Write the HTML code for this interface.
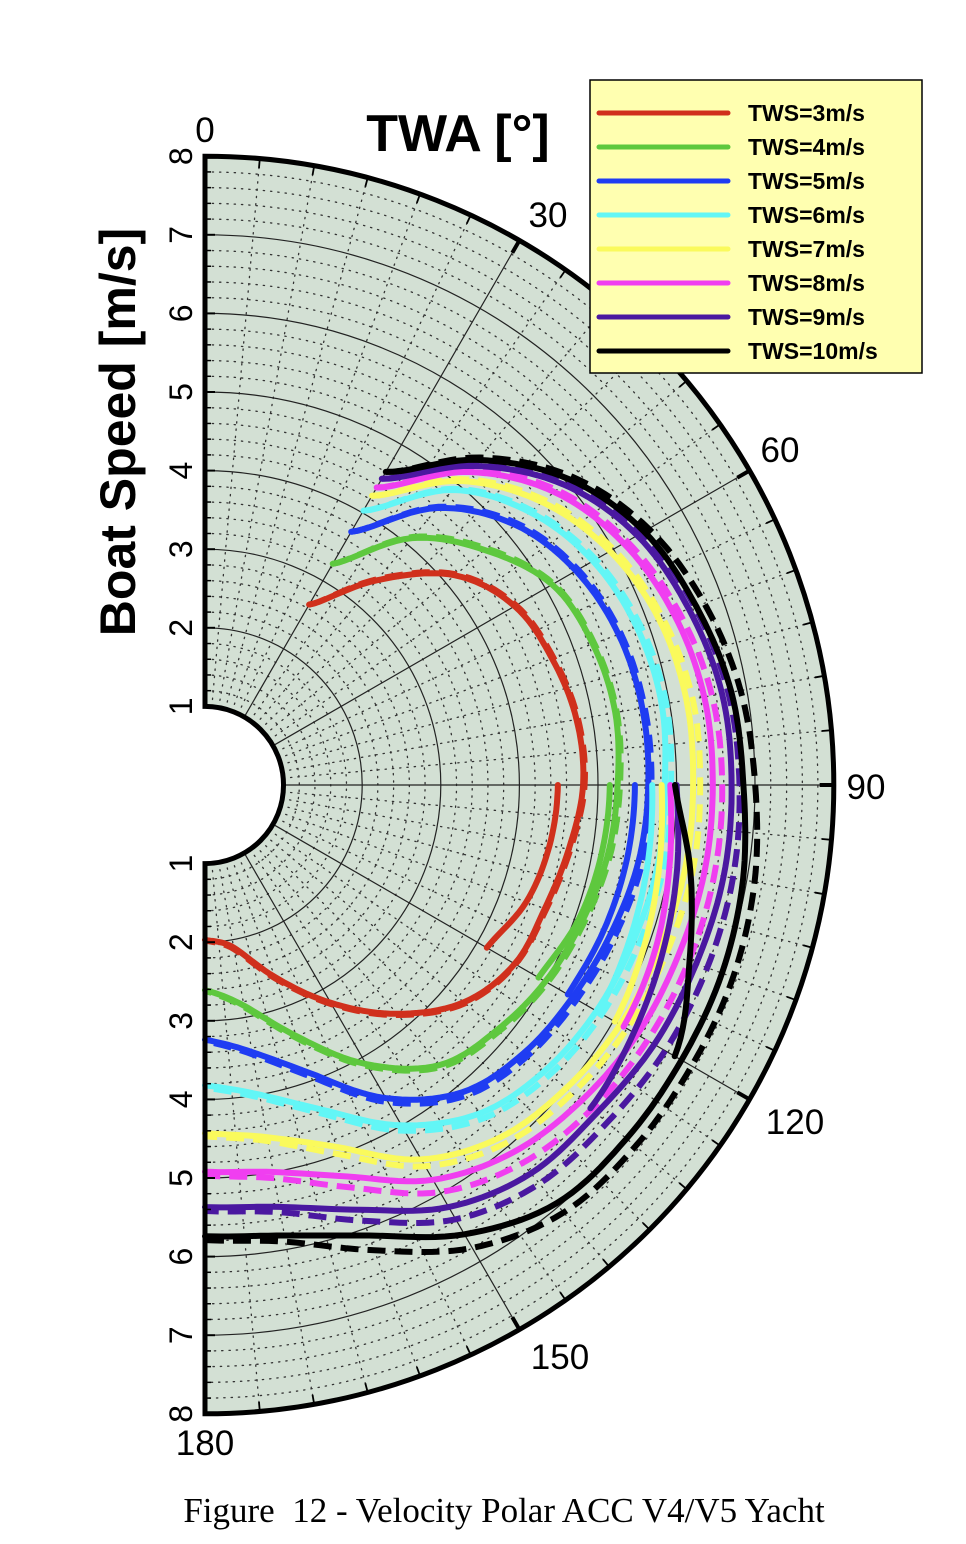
<!DOCTYPE html>
<html><head><meta charset="utf-8"><style>
html,body{margin:0;padding:0;background:#fff;}
svg{display:block;}
</style></head><body>
<svg id="chart" width="966" height="1544" viewBox="0 0 966 1544" xmlns="http://www.w3.org/2000/svg">
<g id="grid"></g>
<g id="series"></g>
<g id="frame"></g>
<g id="labels"></g>
<text x="458" y="151" text-anchor="middle" font-family="Liberation Sans, sans-serif" font-weight="bold" font-size="52">TWA [°]</text>
<text transform="translate(135,432) rotate(-90)" text-anchor="middle" font-family="Liberation Sans, sans-serif" font-weight="bold" font-size="50">Boat Speed [m/s]</text>
<g id="legend">
<rect x="590" y="80" width="332" height="293" fill="#ffffb0" stroke="#000" stroke-width="1.5"/>
</g>
<text x="504" y="1522" text-anchor="middle" font-family="Liberation Serif, serif" font-size="35">Figure&#160; 12 - Velocity Polar ACC V4/V5 Yacht</text>
</svg>
<script>
const ANGLES = [30,40,50,60,70,80,90,100,110,120,130,140,150,160,170,180];
const TWS = ["3","4","5","6","7","8","9","10"];
const COLORS = ["#d0301c","#5ec83e","#1f3cf2","#62f6f6","#fafa5c","#f03ef0","#4a18a0","#000000"];
const SPEED_3  = [2.65,3.4,4.15,4.55,4.7,4.8,4.81,4.7,4.6,4.55,4.3,3.8,3.2,2.6,2.1,1.97];
const SPEED_4  = [3.25,4.1,4.65,5.1,5.25,5.3,5.25,5.2,5.1,5.0,4.85,4.65,4.1,3.4,2.85,2.61];
const SPEED_5  = [3.72,4.6,5.15,5.45,5.6,5.65,5.64,5.6,5.5,5.4,5.3,5.1,4.6,3.9,3.45,3.24];
const SPEED_6  = [4.03,4.9,5.4,5.7,5.85,5.9,5.85,5.85,5.8,5.75,5.65,5.45,5.0,4.4,4.0,3.82];
const SPEED_7  = [4.25,5.05,5.6,5.95,6.15,6.22,6.21,6.2,6.15,6.1,6.0,5.85,5.5,4.9,4.55,4.43];
const SPEED_8  = [4.37,5.2,5.8,6.15,6.35,6.45,6.46,6.45,6.4,6.35,6.25,6.1,5.8,5.3,5.0,4.92];
const SPEED_9  = [4.5,5.3,5.95,6.35,6.55,6.68,6.7,6.7,6.65,6.6,6.5,6.45,6.2,5.75,5.45,5.37];
const SPEED_10 = [4.6,5.4,6.05,6.45,6.65,6.8,6.85,6.95,7.0,7.0,7.0,6.95,6.6,6.1,5.82,5.74];
const DASH_3  = [2.65,3.42,4.17,4.57,4.72,4.82,4.83,4.72,4.62,4.56,4.32,3.82,3.22,2.62,2.12,1.98];
const DASH_4  = [3.25,4.12,4.68,5.12,5.27,5.32,5.28,5.23,5.13,5.03,4.88,4.68,4.13,3.43,2.87,2.62];
const DASH_5  = [3.72,4.62,5.18,5.48,5.63,5.68,5.68,5.65,5.56,5.46,5.36,5.16,4.66,3.95,3.48,3.26];
const DASH_6  = [4.03,4.92,5.43,5.74,5.9,5.96,5.93,5.93,5.88,5.83,5.73,5.53,5.08,4.46,4.04,3.85];
const DASH_7  = [4.25,5.08,5.64,6.0,6.2,6.3,6.3,6.3,6.25,6.2,6.1,5.95,5.6,5.0,4.6,4.47];
const DASH_8  = [4.37,5.23,5.84,6.2,6.42,6.55,6.58,6.58,6.55,6.5,6.42,6.28,5.98,5.45,5.08,4.97];
const DASH_9  = [4.5,5.33,6.0,6.42,6.63,6.76,6.8,6.82,6.8,6.76,6.68,6.62,6.38,5.9,5.52,5.42];
const DASH_10 = [4.6,5.44,6.1,6.52,6.76,6.92,7.0,7.1,7.15,7.15,7.15,7.1,6.8,6.3,5.9,5.79];
const INNER_ANGLES = [90,100,110,120,130];
const INNER_3  = [4.49,4.45,4.35,4.14,null];
const INNER_4  = [5.15,5.12,5.05,4.9,null];
const INNER_5  = [5.47,5.45,5.4,5.33,null];
const INNER_6  = [5.69,5.72,5.75,5.78,null];
const INNER_7  = [5.81,5.87,5.95,6.02,null];
const INNER_8  = [5.92,6.0,6.1,6.15,null];
const INNER_9  = [6.0,6.1,6.2,6.3,6.4];
const INNER_10 = [5.98,6.27,6.56,6.9,null];
const SPEED_TICKS = ["1","2","3","4","5","6","7","8"];
const ANGLE_TICKS = ["0","30","60","90","120","150","180"];

const CX=205, CY=785, K=78.6;
const NS="http://www.w3.org/2000/svg";
function px(th,v){const a=th*Math.PI/180;return [CX+v*K*Math.sin(a), CY-v*K*Math.cos(a)];}
function mk(tag,attrs,parent){const e=document.createElementNS(NS,tag);for(const k in attrs)e.setAttribute(k,attrs[k]);parent.appendChild(e);return e;}
function arcPath(r,a0,a1){const p0=px(a0,r),p1=px(a1,r);return `M${p0[0]},${p0[1]} A${r*K},${r*K} 0 0 1 ${p1[0]},${p1[1]}`;}

const grid=document.getElementById('grid');
const bg=mk('path',{d:`M${CX},${CY-8*K} A${8*K},${8*K} 0 0 1 ${CX},${CY+8*K} L${CX},${CY+K} A${K},${K} 0 0 0 ${CX},${CY-K} Z`,fill:'#d3e0d4'},grid);


for(let i=6;i<40;i++){const r=i/5; if(i%5===0) continue;
  const c=mk('path',{d:arcPath(r,0,180),fill:'none',stroke:'#333','stroke-width':1.3,'stroke-dasharray':'1.3 6','stroke-linecap':'round'},grid);
  
  
}
for(let a=5;a<180;a+=5){ if(a%30===0) continue;
  const p0=px(a,1),p1=px(a,8);
  const l=mk('line',{x1:p0[0],y1:p0[1],x2:p1[0],y2:p1[1],stroke:'#333','stroke-width':1.3,'stroke-dasharray':'1.3 6','stroke-linecap':'round'},grid);
  
  
}
for(let r=2;r<8;r++){
  const c=mk('path',{d:arcPath(r,0,180),fill:'none',stroke:'#222','stroke-width':1.2},grid);
  
  
}
for(let a=30;a<180;a+=30){
  const p0=px(a,1),p1=px(a,8);
  const l=mk('line',{x1:p0[0],y1:p0[1],x2:p1[0],y2:p1[1],stroke:'#222','stroke-width':1.2},grid);
  
  
}

const series=document.getElementById('series');
function crInterp(angs,vals,step){
  const pts=[];
  for(let i=0;i<angs.length-1;i++){
    const p0=vals[Math.max(i-1,0)],p1=vals[i],p2=vals[i+1],p3=vals[Math.min(i+2,vals.length-1)];
    const a1=angs[i],a2=angs[i+1];
    const n=Math.max(2,Math.round((a2-a1)/step));
    for(let j=0;j<n;j++){const t=j/n;
      const v=0.5*((2*p1)+(-p0+p2)*t+(2*p0-5*p1+4*p2-p3)*t*t+(-p0+3*p1-3*p2+p3)*t*t*t);
      pts.push(px(a1+(a2-a1)*t,v));}
  }
  pts.push(px(angs[angs.length-1],vals[vals.length-1]));
  return pts.map((p,i)=>(i?'L':'M')+p[0].toFixed(1)+','+p[1].toFixed(1)).join(' ');
}
const MAIN=[SPEED_3,SPEED_4,SPEED_5,SPEED_6,SPEED_7,SPEED_8,SPEED_9,SPEED_10];
const DASH=[DASH_3,DASH_4,DASH_5,DASH_6,DASH_7,DASH_8,DASH_9,DASH_10];
const INNER=[INNER_3,INNER_4,INNER_5,INNER_6,INNER_7,INNER_8,INNER_9,INNER_10];
for(let s=0;s<TWS.length;s++){
  const d=mk('path',{d:crInterp(ANGLES,DASH[s],1),fill:'none',stroke:COLORS[s],'stroke-width':6,'stroke-dasharray':'18 9'},series);
  
  
  const m=mk('path',{d:crInterp(ANGLES,MAIN[s],1),fill:'none',stroke:COLORS[s],'stroke-width':6,'stroke-linecap':'round'},series);
  
  
  const ia=[],iv=[];
  INNER[s].forEach((v,i)=>{if(v!==null){ia.push(INNER_ANGLES[i]);iv.push(v);}});
  const n=mk('path',{d:crInterp(ia,iv,1),fill:'none',stroke:COLORS[s],'stroke-width':6,'stroke-linecap':'round'},series);
  
  
}

const frame=document.getElementById('frame');
const f=mk('path',{d:`M${CX},${CY-8*K} A${8*K},${8*K} 0 0 1 ${CX},${CY+8*K} L${CX},${CY+K} A${K},${K} 0 0 0 ${CX},${CY-K} Z`,fill:'none',stroke:'#000','stroke-width':5,'stroke-linejoin':'miter'},frame);


for(let a=5;a<180;a+=5){
  const big=a%30===0;const p0=px(a,8),p1=px(a,big?7.82:7.88);
  const t=mk('line',{x1:p0[0],y1:p0[1],x2:p1[0],y2:p1[1],stroke:'#000','stroke-width':big?4:1.8},frame);
  
  
}
for(let i=5;i<40;i++){const r=i/5;const big=i%5===0;
  [-1,1].forEach(sg=>{const y=CY+sg*r*K;
    const t=mk('line',{x1:CX,y1:y,x2:CX+(big?10:6),y2:y,stroke:'#000','stroke-width':big?2:1.5},frame);
    
    });
}

const labels=document.getElementById('labels');
SPEED_TICKS.forEach((lab,i)=>{const r=+lab;
  [-1,1].forEach(sg=>{const y=CY+sg*r*K;
    const t=mk('text',{transform:`translate(192,${y}) rotate(-90)`,'text-anchor':'middle','font-family':'Liberation Sans, sans-serif','font-size':32},labels);
    t.textContent=lab;
    
    });
});
const ANGLE_LABEL_POS={"0":[205,142],"30":[548,227],"60":[780,462],"90":[866,799],"120":[795,1134],"150":[560,1369],"180":[205,1455]};
ANGLE_TICKS.forEach(lab=>{const p=ANGLE_LABEL_POS[lab];
  const t=mk('text',{x:p[0],y:p[1],'text-anchor':'middle','font-family':'Liberation Sans, sans-serif','font-size':35},labels);
  t.textContent=lab;
  
  
});

const legend=document.getElementById('legend');
TWS.forEach((w,i)=>{const y=113+34*i;
  const l=mk('line',{x1:599,y1:y,x2:728,y2:y,stroke:COLORS[i],'stroke-width':5,'stroke-linecap':'round'},legend);
  
  
  const t=mk('text',{x:748,y:y+8,'font-family':'Liberation Sans, sans-serif','font-weight':'bold','font-size':23},legend);
  t.textContent='TWS='+w+'m/s';
  
  
});
</script>
</body></html>
